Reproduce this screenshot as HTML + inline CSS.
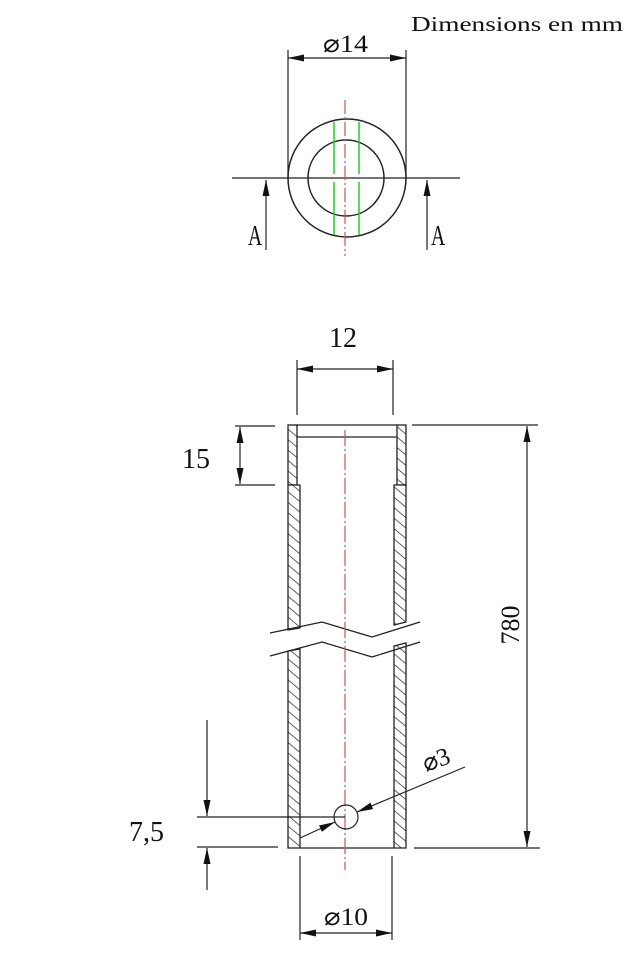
<!DOCTYPE html>
<html><head><meta charset="utf-8"><style>
html,body{margin:0;padding:0;background:#fff;}
svg{display:block;}
text{font-family:"Liberation Serif",serif;fill:#111;}
</style></head><body>
<svg width="642" height="953" viewBox="0 0 642 953" xmlns="http://www.w3.org/2000/svg">
<defs>
<pattern id="h" patternUnits="userSpaceOnUse" width="8" height="8" patternTransform="rotate(-50)">
<rect width="8" height="8" fill="#fff"/><line x1="0" y1="0" x2="0" y2="8" stroke="#222" stroke-width="1.4"/>
</pattern>
<marker id="a" viewBox="0 0 16 7" refX="16" refY="3.5" markerWidth="16" markerHeight="7" orient="auto" markerUnits="userSpaceOnUse">
<path d="M0,0 L16,3.5 L0,7 z" fill="#111"/></marker>
</defs>
<text x="411" y="31" font-size="21" textLength="212" lengthAdjust="spacingAndGlyphs">Dimensions en mm</text>

<g stroke="#222" stroke-width="1.2" fill="none">
<line x1="232" y1="178" x2="460" y2="178"/>
<line x1="288" y1="50" x2="288" y2="178"/>
<line x1="406" y1="50" x2="406" y2="178"/>
<line x1="345" y1="58" x2="288" y2="58" marker-end="url(#a)"/>
<line x1="345" y1="58" x2="406" y2="58" marker-end="url(#a)"/>
<circle cx="347" cy="178" r="59" stroke-width="1.5"/>
<circle cx="346" cy="178" r="38" stroke-width="1.5"/>
<line x1="266" y1="250" x2="266" y2="180" marker-end="url(#a)"/>
<line x1="427" y1="250" x2="427" y2="180" marker-end="url(#a)"/>
</g>
<g stroke="#2c2" stroke-width="1.5">
<line x1="334" y1="122" x2="334" y2="174"/><line x1="334" y1="182" x2="334" y2="235"/>
<line x1="359" y1="122" x2="359" y2="174"/><line x1="359" y1="182" x2="359" y2="235"/>
</g>
<line x1="345" y1="100" x2="345" y2="256" stroke="#c55" stroke-width="1.2" stroke-dasharray="14,3,2,3"/>
<text x="323" y="52" font-size="25" textLength="45" lengthAdjust="spacingAndGlyphs">⌀14</text>
<text x="0" y="0" font-size="28" transform="translate(248,245) scale(0.7,1)">A</text>
<text x="0" y="0" font-size="28" transform="translate(431,245) scale(0.7,1)">A</text>

<g stroke="#222" stroke-width="1.2" fill="none">
<line x1="297" y1="360" x2="297" y2="415"/><line x1="393" y1="360" x2="393" y2="415"/>
<line x1="345" y1="369" x2="297" y2="369" marker-end="url(#a)"/>
<line x1="345" y1="369" x2="393" y2="369" marker-end="url(#a)"/>
</g>
<text x="343" y="347" font-size="28" text-anchor="middle">12</text>

<g stroke="#222" stroke-width="1.3" fill="url(#h)">
<rect x="288" y="425" width="9" height="60"/>
<rect x="397" y="425" width="9" height="60"/>
<path d="M288,485 H300 V628 L288,630 Z"/>
<path d="M394,485 H406 V622 L394,625 Z"/>
<path d="M288,651 L300,649 V848 H288 Z"/>
<path d="M394,646 L406,643 V848 H394 Z"/>
</g>
<g stroke="#222" stroke-width="1.3" fill="none">
<line x1="297" y1="425" x2="397" y2="425"/>
<line x1="297" y1="437" x2="397" y2="437"/>
<line x1="300" y1="848" x2="394" y2="848"/>
<polyline points="270,633 322,622 372,637 420,622"/>
<polyline points="270,656 322,642 372,657 420,642"/>
</g>
<line x1="345" y1="430" x2="345" y2="870" stroke="#c55" stroke-width="1.2" stroke-dasharray="16,3,2,3"/>

<g stroke="#222" stroke-width="1.2" fill="none">
<line x1="235" y1="426" x2="275" y2="426"/><line x1="235" y1="485" x2="275" y2="485"/>
<line x1="240" y1="455" x2="240" y2="427" marker-end="url(#a)"/>
<line x1="240" y1="455" x2="240" y2="484" marker-end="url(#a)"/>
</g>
<text x="182" y="468" font-size="28">15</text>

<g stroke="#222" stroke-width="1.2" fill="none">
<line x1="412" y1="425" x2="538" y2="425"/><line x1="414" y1="848" x2="540" y2="848"/>
<line x1="527" y1="630" x2="527" y2="426" marker-end="url(#a)"/>
<line x1="527" y1="630" x2="527" y2="847" marker-end="url(#a)"/>
</g>
<text x="0" y="0" font-size="26" text-anchor="middle" transform="translate(519,625) rotate(-90)">780</text>

<g stroke="#222" stroke-width="1.2" fill="none">
<line x1="197" y1="817" x2="345" y2="817"/><line x1="197" y1="847" x2="278" y2="847"/>
<line x1="207" y1="720" x2="207" y2="816" marker-end="url(#a)"/>
<line x1="207" y1="890" x2="207" y2="848" marker-end="url(#a)"/>
</g>
<text x="129" y="841" font-size="28">7,5</text>

<g stroke="#222" stroke-width="1.2" fill="none">
<circle cx="346" cy="817" r="12"/>
<line x1="300" y1="838" x2="335" y2="822" marker-end="url(#a)"/>
<line x1="465" y1="767" x2="357" y2="812" marker-end="url(#a)"/>
</g>
<text x="0" y="0" font-size="25" transform="translate(426,772) rotate(-20)">⌀3</text>

<g stroke="#222" stroke-width="1.2" fill="none">
<line x1="300" y1="856" x2="300" y2="940"/><line x1="392" y1="856" x2="392" y2="940"/>
<line x1="346" y1="933" x2="300" y2="933" marker-end="url(#a)"/>
<line x1="346" y1="933" x2="392" y2="933" marker-end="url(#a)"/>
</g>
<text x="324" y="925" font-size="25" textLength="44" lengthAdjust="spacingAndGlyphs">⌀10</text>
</svg>
</body></html>
